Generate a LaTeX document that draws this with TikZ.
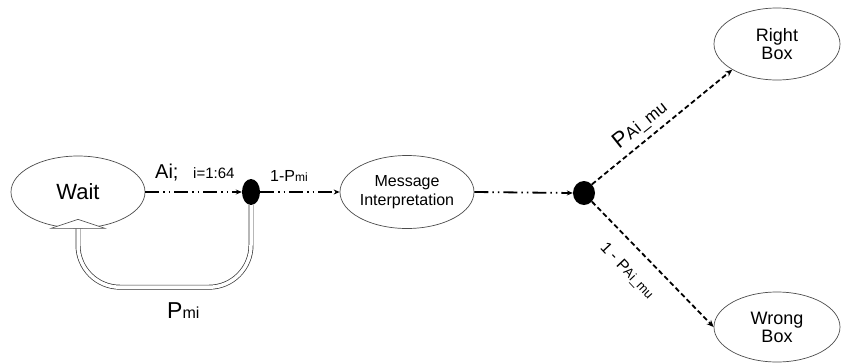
\documentclass[tikz,border=0pt]{standalone}
\usepackage{fontspec}
\setmainfont{Liberation Sans}
\usetikzlibrary{shapes.geometric,arrows.meta}
\begin{document}
\begin{tikzpicture}[x=1pt,y=-1pt,
  state/.style={ellipse, draw=black!70, line width=0.7pt, inner sep=0pt, align=center},
  junction/.style={ellipse, fill=black, inner sep=0pt},
  dashdotdot/.style={line width=1.8pt, dash pattern=on 14pt off 4pt on 1.5pt off 4pt on 1.5pt off 4pt, -{Stealth[length=6pt,width=5pt]}},
  dashedarrow/.style={line width=1.8pt, dash pattern=on 5pt off 3pt, -{Stealth[length=7pt,width=6pt]}},
  fs/.style={font=\fontsize{#1}{#1}\selectfont},
  loopline/.style={double=white, double distance=3.5pt, line width=0.7pt, draw=black!80, rounded corners=42pt}
]
\useasboundingbox (0,0) rectangle (841,362);

\node[state, minimum width=134pt, minimum height=72pt, fs=22] (wait) at (78,192) {Wait};
\node[junction, minimum width=18pt, minimum height=26pt] (d1) at (251,192) {};
\node[state, minimum width=134pt, minimum height=73pt, font=\fontsize{16}{19}\selectfont] (msg) at (407,192) {Message\\Interpretation};
\node[junction, minimum width=22pt, minimum height=24pt] (d2) at (584,193) {};
\node[state, minimum width=126pt, minimum height=72pt, font=\fontsize{18}{18}\selectfont] (rbox) at (777,44) {Right\\Box};
\node[state, minimum width=126pt, minimum height=70pt, font=\fontsize{18}{18}\selectfont] (wbox) at (777,327) {Wrong\\Box};

\draw[dashdotdot] (wait.east) -- (d1.west);
\draw[dashdotdot] (d1.east) -- (msg.west);
\draw[dashdotdot] (msg.east) -- (d2.west);
\draw[dashedarrow] (d2.north east) -- (rbox.south west);
\draw[dashedarrow] (d2.south east) -- (wbox.west);

\draw[loopline] (d1.south) -- ++(0,82) -| (wait.south);
\filldraw[fill=white, draw=black!70, line width=0.6pt] ([xshift=-27pt]wait.south) -- ([yshift=9pt]wait.south) -- ([xshift=27pt]wait.south) -- cycle;

\node[fs=20, anchor=base west, inner sep=0pt] (ai) at (155,178) {Ai;};
\node[fs=15, anchor=base west, inner sep=0pt] (irange) at (193,178) {i=1:64};
\node[fs=16, anchor=base west, inner sep=0pt] (p1) at (270,181) {1-P{\fontsize{12}{12}\selectfont mi}};
\node[fs=23, anchor=base west, inner sep=0pt] (pmi) at (167,318) {P{\fontsize{16}{16}\selectfont mi}};
\node[fs=22, rotate=38.5, inner sep=0pt] (pa) at (640,125) {P{\fontsize{17}{17}\selectfont Ai\_mu}};
\node[fs=16, rotate=-46.6, inner sep=0pt] (pb) at (627,271) {1 - P{\fontsize{13}{13}\selectfont Ai\_mu}};
\end{tikzpicture}
\end{document}
